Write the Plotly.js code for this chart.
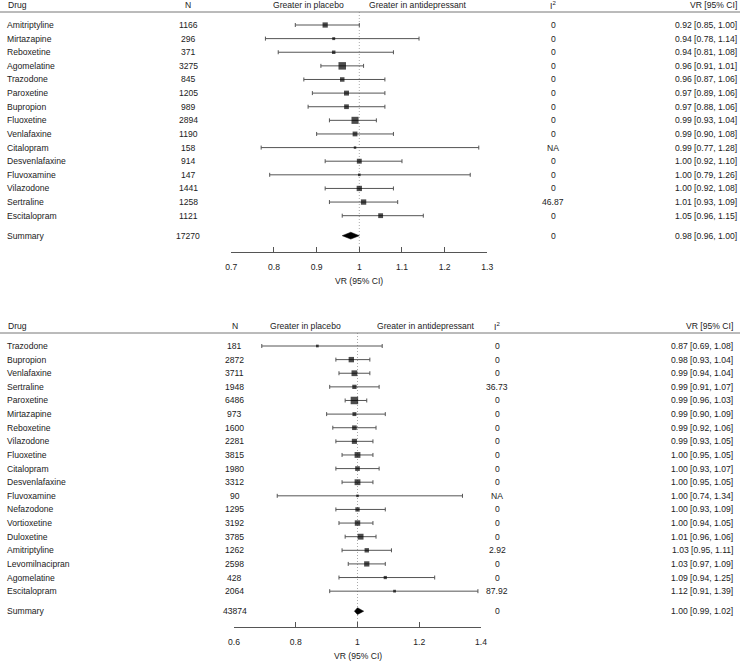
<!DOCTYPE html>
<html><head><meta charset="utf-8">
<script src="https://cdn.plot.ly/plotly-3.0.1.min.js"></script>
<style>html,body{margin:0;padding:0;background:#fff}#chart{width:740px;height:661px}</style>
</head><body><div id="chart"></div>
<script>
// ---------- Panel A data ----------
const drugsA = ["Amitriptyline","Mirtazapine","Reboxetine","Agomelatine","Trazodone","Paroxetine","Bupropion","Fluoxetine","Venlafaxine","Citalopram","Desvenlafaxine","Fluvoxamine","Vilazodone","Sertraline","Escitalopram"];
const nA   = [1166,296,371,3275,845,1205,989,2894,1190,158,914,147,1441,1258,1121];
const i2A  = ["0","0","0","0","0","0","0","0","0","NA","0","0","0","46.87","0"];
const vrA  = [0.92,0.94,0.94,0.96,0.96,0.97,0.97,0.99,0.99,0.99,1.00,1.00,1.00,1.01,1.05];
const loA  = [0.85,0.78,0.81,0.91,0.87,0.89,0.88,0.93,0.90,0.77,0.92,0.79,0.92,0.93,0.96];
const hiA  = [1.00,1.14,1.08,1.01,1.06,1.06,1.06,1.04,1.08,1.28,1.10,1.26,1.08,1.09,1.15];
const sumA = {n:17270, i2:"0", vr:0.98, lo:0.96, hi:1.00};
const ticksA = [0.7,0.8,0.9,1.0,1.1,1.2,1.3];

// ---------- Panel B data ----------
const drugsB = ["Trazodone","Bupropion","Venlafaxine","Sertraline","Paroxetine","Mirtazapine","Reboxetine","Vilazodone","Fluoxetine","Citalopram","Desvenlafaxine","Fluvoxamine","Nefazodone","Vortioxetine","Duloxetine","Amitriptyline","Levomilnacipran","Agomelatine","Escitalopram"];
const nB   = [181,2872,3711,1948,6486,973,1600,2281,3815,1980,3312,90,1295,3192,3785,1262,2598,428,2064];
const i2B  = ["0","0","0","36.73","0","0","0","0","0","0","0","NA","0","0","0","2.92","0","0","87.92"];
const vrB  = [0.87,0.98,0.99,0.99,0.99,0.99,0.99,0.99,1.00,1.00,1.00,1.00,1.00,1.00,1.01,1.03,1.03,1.09,1.12];
const loB  = [0.69,0.93,0.94,0.91,0.96,0.90,0.92,0.93,0.95,0.93,0.95,0.74,0.93,0.94,0.96,0.95,0.97,0.94,0.91];
const hiB  = [1.08,1.04,1.04,1.07,1.03,1.09,1.06,1.05,1.05,1.07,1.05,1.34,1.09,1.05,1.06,1.11,1.09,1.25,1.39];
const sumB = {n:43874, i2:"0", vr:1.00, lo:0.99, hi:1.02};
const ticksB = [0.6,0.8,1.0,1.2,1.4];

// ---------- Layout constants ----------
const W = 740, H = 661;
const FONT = "Liberation Sans, Arial, Helvetica, sans-serif";
const TXT = "#222";
const FS = 8.6;
const ROW = 13.62;

const panels = [
  {ax:"", top:0, names:drugsA, n:nA, i2:i2A, vr:vrA, lo:loA, hi:hiA, sum:sumA, ticks:ticksA,
   xpx:[231.3,487.3], range:[0.7,1.3], xN:188, xPl:308, xAd:418, xI2:553, xVR:738},
  {ax:"2", top:321, names:drugsB, n:nB, i2:i2B, vr:vrB, lo:loB, hi:hiB, sum:sumB, ticks:ticksB,
   xpx:[234,481], range:[0.6,1.4], xN:235, xPl:305, xAd:426, xI2:497, xVR:734}
];

const traces = [], annotations = [], shapes = [];
const layout = {
  width: W, height: H, margin:{l:0,r:0,t:0,b:0,pad:0},
  paper_bgcolor:"#fff", plot_bgcolor:"rgba(0,0,0,0)",
  showlegend:false, font:{family:FONT, size:FS, color:TXT}
};

function txt(x, y, yref, text, anchor) {
  annotations.push({x:x/W, xref:"paper", y:y, yref:yref, text:text, showarrow:false,
    xanchor:anchor, yanchor:"middle", borderpad:0, font:{family:FONT, size:FS, color:TXT}});
}

panels.forEach(p => {
  const xa = "x"+p.ax, ya = "y"+p.ax;
  const headerY = p.top + 5, lineY = p.top + 12, firstY = p.top + 25;
  const rows = p.names.map((_, i) => firstY + i*ROW);
  const sumY = rows[rows.length-1] + 20;
  const axisY = sumY + 16;

  // axes
  layout["xaxis"+p.ax] = {
    domain:[p.xpx[0]/W, p.xpx[1]/W], range:p.range, anchor:ya, fixedrange:true,
    showline:true, linecolor:"#555", linewidth:1, ticks:"inside", ticklen:5, tickwidth:1, tickcolor:"#555",
    tickvals:p.ticks, showgrid:false, zeroline:false, ticklabelstandoff:7,
    tickfont:{family:FONT, size:FS, color:TXT}
  };
  layout["yaxis"+p.ax] = {
    domain:[(H-axisY)/H, (H-p.top)/H], range:[axisY, p.top], anchor:xa, fixedrange:true,
    visible:false, showgrid:false, zeroline:false
  };

  // study weights -> box size (inverse SE on log scale)
  const w = p.lo.map((l, i) => 1/(Math.log(p.hi[i]) - Math.log(l)));
  const wmin = Math.min(...w), wmax = Math.max(...w);
  const sizes = w.map(v => 5*(0.5 + (v - wmin)/(wmax - wmin)));

  traces.push({
    type:"scatter", mode:"markers", x:p.vr, y:rows, xaxis:xa, yaxis:ya, cliponaxis:false,
    marker:{symbol:"square", color:"#000", size:sizes, line:{width:0}},
    error_x:{type:"data", symmetric:false,
      array:p.hi.map((h,i)=>h - p.vr[i]), arrayminus:p.lo.map((l,i)=>p.vr[i] - l),
      color:"#555", thickness:1, width:2},
    hoverinfo:"skip"
  });
  // summary diamond
  const dh = 3.4;
  traces.push({
    type:"scatter", mode:"lines", xaxis:xa, yaxis:ya, cliponaxis:false,
    x:[p.sum.lo, p.sum.vr, p.sum.hi, p.sum.vr, p.sum.lo],
    y:[sumY, sumY-dh, sumY, sumY+dh, sumY],
    fill:"toself", fillcolor:"#000", line:{color:"#000", width:0.5}, hoverinfo:"skip"
  });

  // header rule and reference line
  shapes.push({type:"line", xref:"paper", x0:0, x1:1, yref:ya, y0:lineY, y1:lineY,
    line:{color:"#777", width:1}});
  shapes.push({type:"line", xref:xa, x0:1, x1:1, yref:ya, y0:lineY, y1:axisY,
    line:{color:"#aaa", width:1, dash:"1px,2px"}, layer:"below"});

  // headers
  txt(7, headerY, ya, "Drug", "left");
  txt(p.xN, headerY, ya, "N", "center");
  txt(p.xPl, headerY, ya, "Greater in placebo", "center");
  txt(p.xAd, headerY, ya, "Greater in antidepressant", "center");
  txt(p.xI2, headerY, ya, "I<sup>2</sup>", "center");
  txt(p.xVR, headerY, ya, "VR [95% CI]", "right");

  // rows
  const fmt = v => v.toFixed(2);
  p.names.forEach((nm, i) => {
    txt(6, rows[i], ya, nm, "left");
    txt(p.xN, rows[i], ya, String(p.n[i]), "center");
    txt(p.xI2, rows[i], ya, p.i2[i], "center");
    txt(p.xVR, rows[i], ya, fmt(p.vr[i])+" ["+fmt(p.lo[i])+", "+fmt(p.hi[i])+"]", "right");
  });
  txt(6, sumY, ya, "Summary", "left");
  txt(p.xN, sumY, ya, String(p.sum.n), "center");
  txt(p.xI2, sumY, ya, p.sum.i2, "center");
  txt(p.xVR, sumY, ya, fmt(p.sum.vr)+" ["+fmt(p.sum.lo)+", "+fmt(p.sum.hi)+"]", "right");

  // axis title (paper coords so it is not hidden outside the y range)
  annotations.push({x:(p.xpx[0]+p.xpx[1])/2/W, xref:"paper", y:(H-(axisY+29))/H, yref:"paper",
    text:"VR (95% CI)", showarrow:false, xanchor:"center", yanchor:"middle", borderpad:0,
    font:{family:FONT, size:FS, color:TXT}});
});

layout.annotations = annotations;
layout.shapes = shapes;
Plotly.newPlot("chart", traces, layout, {staticPlot:true, displayModeBar:false});
</script>
</body></html>
